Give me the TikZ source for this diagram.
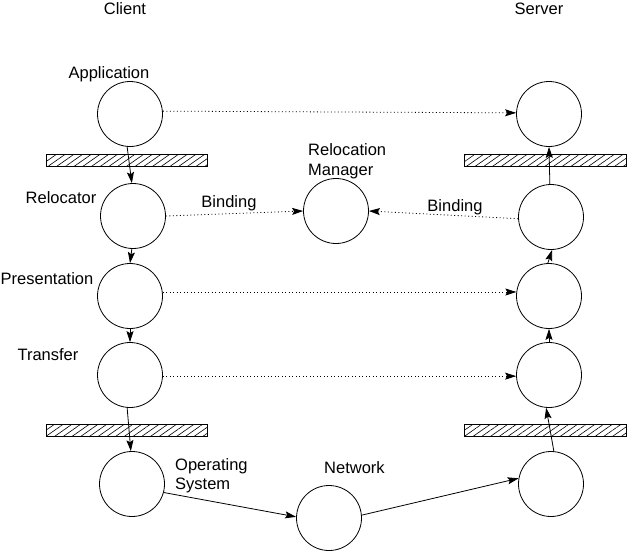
\documentclass[tikz,border=0pt]{standalone}
\usepackage{fontspec}
\setmainfont{Liberation Sans}
\usetikzlibrary{arrows.meta,patterns.meta}
\begin{document}
\begin{tikzpicture}[x=1pt,y=-1pt,
  every node/.style={font=\fontsize{16.5}{19}\selectfont},
  proc/.style={draw,circle,minimum size=65pt,inner sep=0pt,line width=0.8pt},
  lbl/.style={anchor=base,inner sep=0pt},
  lbll/.style={anchor=base west,inner sep=0pt},
  hatch/.style={draw,line width=0.8pt,pattern={Lines[angle=35,distance=5pt,line width=0.6pt]}},
  tip/.style={-{Stealth[length=11pt,width=7pt,inset=2pt]}},
  flow/.style={tip,line width=0.8pt},
  dots/.style={tip,line width=0.8pt,dash pattern=on 1pt off 2.5pt}
]
\useasboundingbox (0,0) rectangle (629,554);
% bars
\draw[hatch] (46,154) rectangle (207,166);
\draw[hatch] (464,154) rectangle (626,166);
\draw[hatch] (46,424) rectangle (207,436);
\draw[hatch] (464,424) rectangle (626,436);
% client circles
\node[proc] (app) at (130,114) {};
\node[proc] (rel) at (133,216) {};
\node[proc] (pre) at (130,296) {};
\node[proc] (tra) at (130,375) {};
\node[proc] (os)  at (132,484) {};
\node[proc] (net) at (329,518) {};
\node[proc] (rm)  at (336,211) {};
% server circles
\node[proc] (sapp) at (549,114) {};
\node[proc] (srel) at (551,217) {};
\node[proc] (spre) at (549,296) {};
\node[proc] (stra) at (549,375) {};
\node[proc] (sos)  at (551,484) {};
% labels
\node[lbl] (tclient) at (125,14) {Client};
\node[lbl] (tserver) at (539,14) {Server};
\node[lbl] (tapp) at (109,78) {Application};
\node[lbl] (trel) at (61,203) {Relocator};
\node[lbl] (tpre) at (47,284) {Presentation};
\node[lbl] (ttra) at (48,360) {Transfer};
\node[lbll] (trm1) at (308,155) {Relocation};
\node[lbll] (trm2) at (308,175) {Manager};
\node[lbll] (tos1) at (175,470) {Operating};
\node[lbll] (tos2) at (175,489) {System};
\node[lbll] (tnet) at (324,473) {Network};
\node[lbl] (tb1) at (229,207) {Binding};
\node[lbl] (tb2) at (455,211) {Binding};
% client flow
\draw[flow] (app.265) -- (rel.92);
\draw[flow] (rel.268) -- (pre.90);
\draw[flow] (pre.270) -- (tra.90);
\draw[flow] (tra.265) -- (os.92);
\draw[flow] (os.-15) -- (net.178);
\draw[flow] (net.5) -- (sos.170);
% server flow
\draw[flow] (sos.85) -- (stra.265);
\draw[flow] (stra.90) -- (spre.270);
\draw[flow] (spre.92) -- (srel.272);
\draw[flow] (srel.92) -- (sapp.270);
% dotted
\draw[dots] (app.5) -- (sapp.178);
\draw[dots] (rel.east) -- (rm.west);
\draw[dots] (srel.183) -- (rm.east);
\draw[dots] (pre.7) -- (spre.173);
\draw[dots] (tra.358) -- (stra.182);
\end{tikzpicture}
\end{document}
